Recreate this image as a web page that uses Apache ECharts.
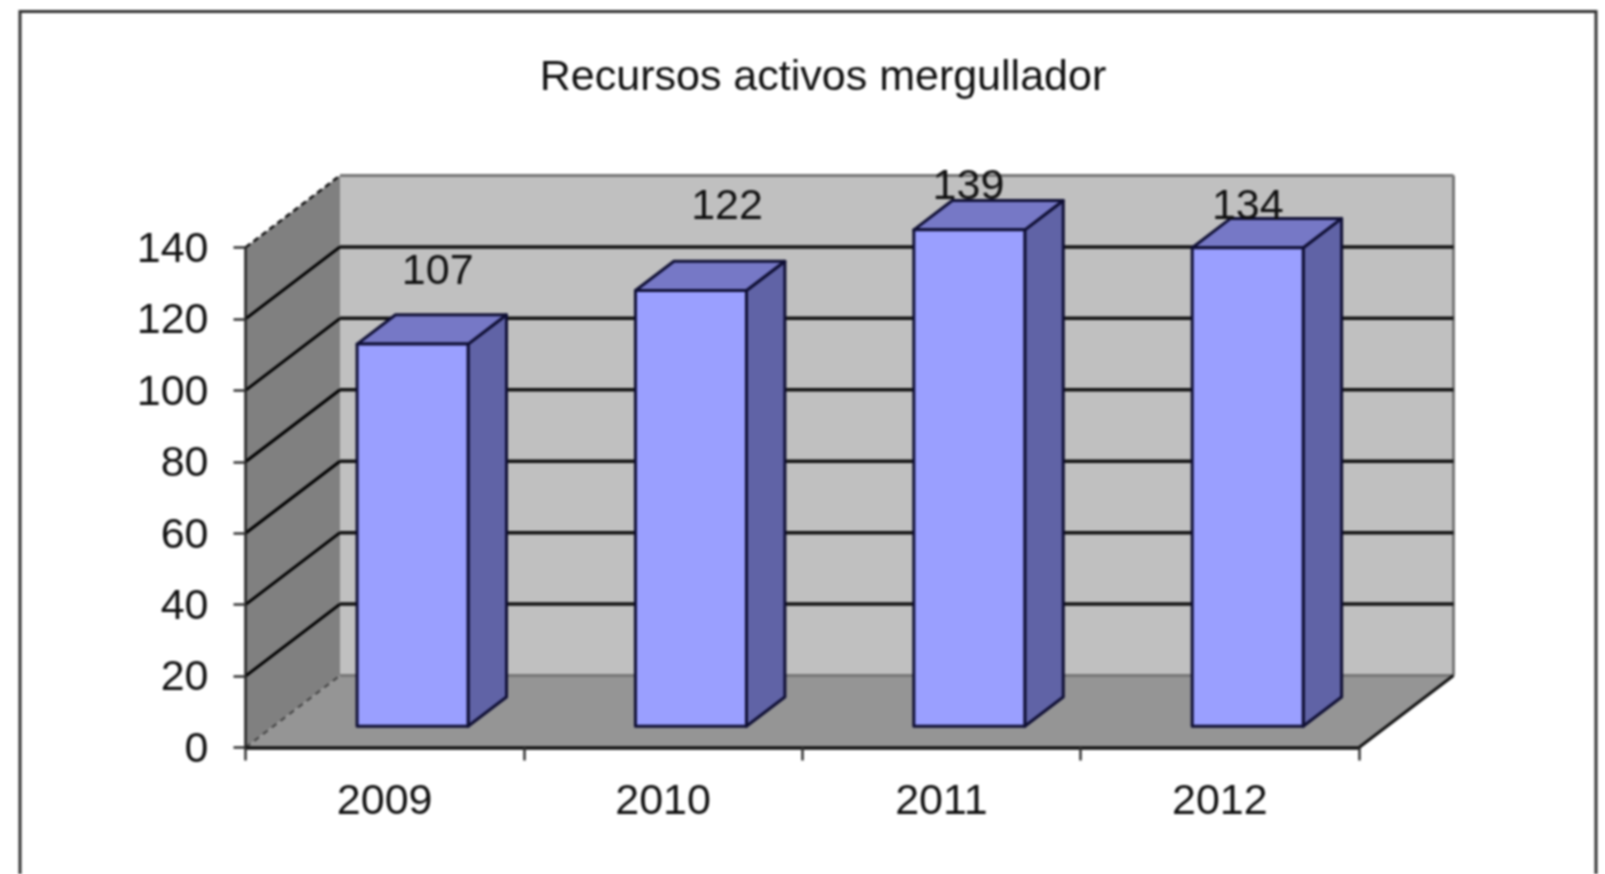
<!DOCTYPE html>
<html>
<head>
<meta charset="utf-8">
<title>Recursos activos mergullador</title>
<script src="https://cdn.jsdelivr.net/npm/echarts@6/dist/echarts.min.js"></script>
<style>
    html, body { margin: 0; padding: 0; background: #fff; overflow: hidden; }
    #chart { width: 1605px; height: 874px; filter: blur(0.9px); }
</style>
</head>
<body>
<div id="chart"></div>
<script>
const categories = ["2009", "2010", "2011", "2012"];
const values = [107, 122, 139, 134];
// 140 lands on the top edge of the walls, that one is drawn with the walls
const gridTicks = [20, 40, 60, 80, 100, 120];
const yMax = 140;
const yStep = 20;

// the value labels were dragged by hand in the original, [dx, dy] from bar top
const labelShift = [[53, -93], [64, -105], [27, -64], [28, -62]];

// 3d look: how far the back wall sits from the front plane
const depthX = 94.5;
const depthY = 72;
const barFront = 0.295;
const barBack = 0.702;
const barWidth = 111;
const fontName = '"Liberation Sans", Arial, sans-serif';

function poly(points, fill, stroke, lineWidth) {
    return {
        type: "polygon",
        shape: { points: points },
        style: { fill: fill, stroke: stroke || null, lineWidth: lineWidth || 0, lineJoin: "round" },
    };
}

function line(p1, p2, stroke, lineWidth, dash) {
    return {
        type: "line",
        shape: { x1: p1[0], y1: p1[1], x2: p2[0], y2: p2[1] },
        style: { stroke: stroke, lineWidth: lineWidth, lineDash: dash || null },
    };
}

/**walls and floor */
function renderWalls(params, api) {
    let sys = params.coordSys;
    let left = sys.x;
    let right = sys.x + sys.width;
    let bottom = api.coord([0, 0])[1];
    let top = api.coord([0, yMax])[1];
    let backTop = top - depthY;
    let backBottom = bottom - depthY;
    return {
        type: "group",
        children: [
            poly([[left + depthX, backTop], [right + depthX, backTop], [right + depthX, backBottom], [left + depthX, backBottom]], "#c0c0c0"),
            poly([[left, top], [left + depthX, backTop], [left + depthX, backBottom], [left, bottom]], "#808080"),
            poly([[left, bottom], [right, bottom], [right + depthX, backBottom], [left + depthX, backBottom]], "#959595"),
            line([left + depthX, backTop], [right + depthX, backTop], "#777", 3),
            line([right + depthX, backTop], [right + depthX, backBottom], "#777", 3),
            line([left + depthX, backBottom], [right + depthX, backBottom], "#777", 3),
            line([left, top], [left + depthX, backTop], "#111", 2.5, [6, 4]),
            line([left, bottom], [left + depthX, backBottom], "#444", 2, [6, 5]),
            line([right, bottom], [right + depthX, backBottom], "#111", 3),
        ],
    };
}

/**one grid line, along the side wall then across the back */
function renderGrid(params, api) {
    let sys = params.coordSys;
    let left = sys.x;
    let right = sys.x + sys.width;
    let y = api.coord([0, api.value(1)])[1];
    return {
        type: "group",
        children: [
            line([left, y], [left + depthX, y - depthY], "#000", 3),
            line([left + depthX, y - depthY], [right + depthX, y - depthY], "#111", 3.5),
        ],
    };
}

function renderBar(params, api) {
    let i = params.dataIndex;
    let base = api.coord([api.value(0), 0]);
    let head = api.coord([api.value(0), api.value(1)]);
    let x0 = base[0] + depthX * barFront - barWidth / 2;
    let x1 = x0 + barWidth;
    let yb = base[1] - depthY * barFront;
    let yt = head[1] - depthY * barFront;
    let dx = depthX * (barBack - barFront);
    let dy = depthY * (barBack - barFront);
    let edge = "#101035";
    return {
        type: "group",
        children: [
            poly([[x1, yt], [x1 + dx, yt - dy], [x1 + dx, yb - dy], [x1, yb]], "#6063a6", edge, 3),
            poly([[x0, yt], [x0 + dx, yt - dy], [x1 + dx, yt - dy], [x1, yt]], "#7678c6", edge, 3),
            poly([[x0, yt], [x1, yt], [x1, yb], [x0, yb]], "#9a9fff", edge, 3),
            {
                type: "text",
                style: {
                    x: base[0] + labelShift[i][0],
                    y: head[1] + labelShift[i][1],
                    text: String(api.value(1)),
                    fill: "#111",
                    font: "43px " + fontName,
                    align: "center",
                    verticalAlign: "middle",
                },
            },
        ],
    };
}

let chart = echarts.init(document.getElementById("chart"));
chart.setOption({
    animation: false,
    backgroundColor: "#fff",
    title: {
        text: "Recursos activos mergullador",
        left: 818,
        top: 52,
        textAlign: "center",
        textStyle: { fontFamily: fontName, fontSize: 43, fontWeight: "normal", color: "#111" },
    },
    grid: { left: 245.5, top: 247.5, width: 1113.5, height: 500 },
    xAxis: {
        type: "category",
        data: categories,
        z: 5,
        axisLine: { lineStyle: { color: "#111", width: 3.5 } },
        axisTick: { show: true, length: 13, alignWithLabel: false, lineStyle: { color: "#333", width: 2.5 } },
        axisLabel: { margin: 33, color: "#111", fontFamily: fontName, fontSize: 43 },
    },
    yAxis: {
        type: "value",
        min: 0,
        max: yMax,
        interval: yStep,
        z: 5,
        splitLine: { show: false },
        axisLine: { show: true, lineStyle: { color: "#222", width: 2.5 } },
        axisTick: { show: true, length: 12, lineStyle: { color: "#333", width: 2.5 } },
        axisLabel: {
            margin: 37,
            formatter: "{n|{value}}",
            rich: {
                n: { padding: [5, 0, 0, 0], color: "#111", fontFamily: fontName, fontSize: 43 },
            },
        },
    },
    graphic: [
        {
            type: "rect",
            shape: { x: 20, y: 11.5, width: 1576, height: 900 },
            style: { fill: "transparent", stroke: "#333", lineWidth: 3 },
            z: 10,
        },
    ],
    series: [
        { type: "custom", z: 1, renderItem: renderWalls, data: [[0, 0]] },
        { type: "custom", z: 2, renderItem: renderGrid, data: gridTicks.map((v) => [0, v]) },
        { type: "custom", z: 3, renderItem: renderBar, data: values.map((v, i) => [i, v]) },
    ],
});
</script>
</body>
</html>
